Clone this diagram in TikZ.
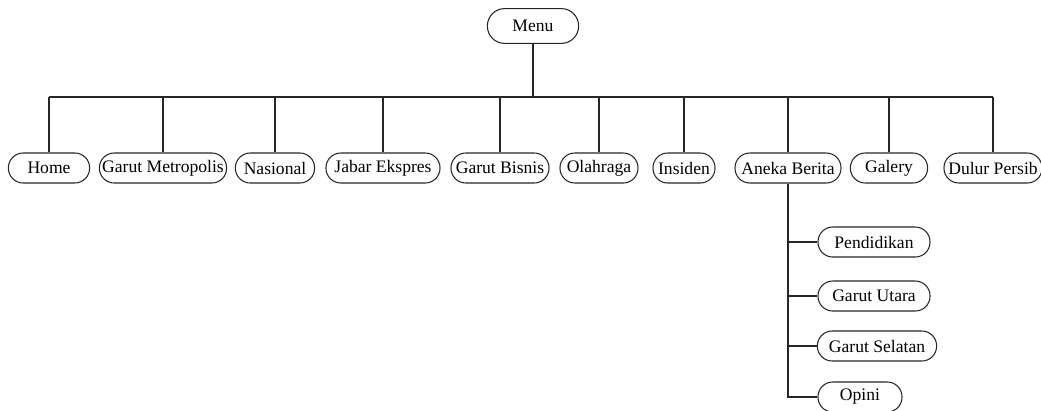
\documentclass[tikz,border=0pt]{standalone}
\usepackage{fontspec}
\setmainfont{Liberation Serif}
\usepackage{tikz}
\usetikzlibrary{positioning}

\tikzset{
  menuitem/.style={draw=black!85, line width=0.75pt, rounded corners=0.37cm,
    minimum height=0.75cm, inner xsep=2pt, inner ysep=1pt, font=\fontsize{12.5}{14}\selectfont},
  link/.style={draw=black!85, line width=0.75pt}
}

\begin{document}
\begin{tikzpicture}[x=0.025cm, y=-0.025cm]
    \useasboundingbox (0,0) rectangle (1041,410);

    % Root
    \node[menuitem, minimum width=2.28cm, minimum height=0.87cm, rounded corners=0.43cm] (menu) at (533,26) {Menu};

    % First level
    \node[menuitem, minimum width=2.03cm] (home) at (49,168) {Home};
    \node[menuitem, minimum width=3.18cm] (metro) at (163,168) {Garut Metropolis};
    \node[menuitem, minimum width=1.98cm] (nasional) at (275,168) {Nasional};
    \node[menuitem, minimum width=2.85cm] (jabar) at (383,168) {Jabar Ekspres};
    \node[menuitem, minimum width=2.45cm] (bisnis) at (500,168) {Garut Bisnis};
    \node[menuitem, minimum width=1.95cm] (olahraga) at (599,168) {Olahraga};
    \node[menuitem, minimum width=1.55cm] (insiden) at (684,168) {Insiden};
    \node[menuitem, minimum width=2.65cm] (aneka) at (788,168) {Aneka Berita};
    \node[menuitem, minimum width=1.93cm] (galery) at (889,168) {Galery};
    \node[menuitem, minimum width=2.45cm] (persib) at (993,168) {Dulur Persib};

    % Second level
    \node[menuitem, minimum width=2.80cm] (pendidikan) at (874,242) {Pendidikan};
    \node[menuitem, minimum width=2.80cm] (utara) at (874,296) {Garut Utara};
    \node[menuitem, minimum width=2.98cm] (selatan) at (877,346) {Garut Selatan};
    \node[menuitem, minimum width=2.10cm] (opini) at (860,397) {Opini};

    % Bus
    \coordinate (bus) at (533,97);
    \draw[link] (menu.south) -- (bus);
    \draw[link] (bus -| home.north) -- (bus -| persib.north);
    \foreach \n in {home,metro,nasional,jabar,bisnis,olahraga,insiden,aneka,galery,persib}
      \draw[link] (bus -| \n.north) -- (\n.north);

    % Aneka Berita branch
    \draw[link] (aneka.south) |- (opini.west);
    \foreach \n in {pendidikan,utara,selatan}
      \draw[link] (aneka.south |- \n.west) -- (\n.west);
  \end{tikzpicture}
\end{document}
